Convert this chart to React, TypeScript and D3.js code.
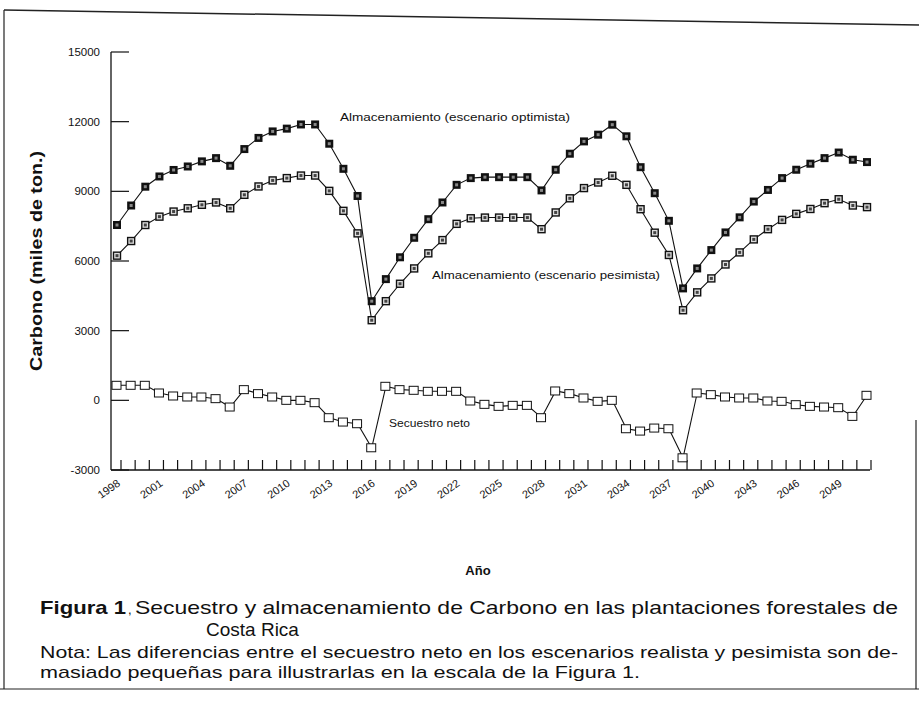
import * as d3 from 'd3';
import React from 'react';

// años 1998 .. 2051
const years = [
  1998, 1999, 2000, 2001, 2002, 2003, 2004, 2005, 2006, 2007, 2008, 2009, 2010, 2011,
  2012, 2013, 2014, 2015, 2016, 2017, 2018, 2019, 2020, 2021, 2022, 2023, 2024, 2025,
  2026, 2027, 2028, 2029, 2030, 2031, 2032, 2033, 2034, 2035, 2036, 2037, 2038, 2039,
  2040, 2041, 2042, 2043, 2044, 2045, 2046, 2047, 2048, 2049, 2050, 2051,
];

const yearLabels = [
  '1998', '2001', '2004', '2007', '2010', '2013', '2016', '2019', '2022',
  '2025', '2028', '2031', '2034', '2037', '2040', '2043', '2046', '2049',
];

const yTicks = [-3000, 0, 3000, 6000, 9000, 12000, 15000];

const optimista = [
  7550, 8390, 9200, 9640, 9920, 10070, 10290, 10430, 10100, 10820, 11300, 11580, 11700, 11880,
  11880, 11050, 9970, 8800, 4270, 5220, 6160, 7000, 7800, 8520, 9280, 9570, 9610, 9610,
  9610, 9610, 9040, 9930, 10620, 11150, 11440, 11870, 11370, 10040, 8920, 7730, 4820, 5680,
  6470, 7230, 7880, 8560, 9060, 9570, 9930, 10190, 10430, 10670, 10360, 10260,
];

const pesimista = [
  6230, 6860, 7550, 7910, 8130, 8270, 8420, 8520, 8270, 8850, 9210, 9470, 9570, 9680,
  9680, 9020, 8160, 7190, 3450, 4270, 5020, 5680, 6330, 6900, 7600, 7840, 7870, 7870,
  7870, 7870, 7370, 8090, 8700, 9140, 9380, 9670, 9280, 8230, 7220, 6260, 3880, 4650,
  5250, 5850, 6370, 6930, 7370, 7770, 8030, 8240, 8490, 8660, 8390, 8320,
];

const secuestro = [
  647, 647, 647, 316, 187, 144, 144, 72, -288, 460, 288, 144, 0, 0,
  -101, -748, -935, -1007, -2043, 604, 460, 432, 388, 388, 388, -29, -173, -259,
  -216, -216, -748, 403, 288, 101, -43, 0, -1223, -1324, -1194, -1223, -2475, 316,
  244, 144, 101, 101, -29, -43, -187, -259, -288, -317, -691, 216,
];

const W = 919;
const H = 703;
const font = '"Liberation Sans", Arial, Helvetica, sans-serif';

const x = d3.scaleLinear().domain([1998, 2051]).range([117, 867]);
const y = d3.scaleLinear().domain([-3000, 15000]).range([470, 52]);

const axisX = 111;

const line = d3
  .line<number>()
  .x((d, i) => x(years[i]))
  .y((d) => y(d));

export default function App() {
  return (
    <svg
      width={W}
      height={H}
      style={{ position: 'absolute', left: 0, top: 0, background: '#fff' }}
      fontFamily={font}
    >
      {/* marco */}
      <g stroke="#222" fill="none">
        <line x1={4} y1={10} x2={919} y2={25} strokeWidth={1.5} />
        <line x1={4} y1={10} x2={4} y2={689} strokeWidth={1.2} />
        <line x1={0} y1={689} x2={919} y2={689} strokeWidth={1.2} />
        <line x1={916} y1={420} x2={916} y2={689} strokeWidth={1.2} />
      </g>

      {/* eje y */}
      <line x1={axisX} y1={y(15000)} x2={axisX} y2={y(-3000)} stroke="#111" strokeWidth={1.3} />
      {yTicks.map((t) => (
        <g key={t}>
          <line x1={axisX} x2={axisX + 18} y1={y(t)} y2={y(t)} stroke="#111" strokeWidth={1.2} />
          <text x={100} y={y(t)} dy="0.35em" textAnchor="end" fontSize={11.5} fill="#111">
            {t}
          </text>
        </g>
      ))}
      <text
        transform={`translate(42,${(y(15000) + y(-3000)) / 2}) rotate(-90)`}
        textAnchor="middle"
        fontSize={17}
        fontWeight="bold"
        fill="#111"
        textLength={220}
        lengthAdjust="spacingAndGlyphs"
      >
        Carbono (miles de ton.)
      </text>

      {/* eje x */}
      <line x1={axisX} x2={x(2051) + 3} y1={y(-3000)} y2={y(-3000)} stroke="#111" strokeWidth={1.3} />
      {years.map((yr) => (
        <line
          key={yr}
          x1={x(yr) + 4}
          x2={x(yr) + 4}
          y1={y(-3000)}
          y2={y(-3000) - 10}
          stroke="#111"
          strokeWidth={1.2}
        />
      ))}
      {yearLabels.map((lab) => (
        <text
          key={lab}
          transform={`translate(${x(+lab) + 4},${y(-3000) + 15}) rotate(-35)`}
          textAnchor="end"
          fontSize={11}
          fill="#111"
        >
          {lab}
        </text>
      ))}
      <text x={478} y={575} textAnchor="middle" fontSize={13} fontWeight="bold" fill="#111">
        Año
      </text>

      {/* series */}
      <path d={line(optimista) || ''} fill="none" stroke="#111" strokeWidth={1.1} />
      <path d={line(pesimista) || ''} fill="none" stroke="#111" strokeWidth={1.1} />
      <path d={line(secuestro) || ''} fill="none" stroke="#111" strokeWidth={1.1} />

      {optimista.map((v, i) => (
        <g key={'o' + i} transform={`translate(${x(years[i])},${y(v)})`}>
          <rect x={-4} y={-4} width={8} height={8} fill="#111" />
          <rect x={-1.5} y={-1.5} width={3} height={3} fill="#888" />
        </g>
      ))}
      {pesimista.map((v, i) => (
        <g key={'p' + i} transform={`translate(${x(years[i])},${y(v)})`}>
          <rect x={-3.5} y={-3.5} width={7} height={7} fill="#ddd" stroke="#111" strokeWidth={1.4} />
          <rect x={-1.5} y={-1.5} width={3} height={3} fill="#444" />
        </g>
      ))}
      {secuestro.map((v, i) => (
        <rect
          key={'s' + i}
          x={x(years[i]) - 5}
          y={y(v) - 4}
          width={9}
          height={8}
          fill="#fff"
          stroke="#111"
          strokeWidth={1}
        />
      ))}

      {/* rótulos */}
      <text x={340} y={121} fontSize={11} fill="#111" textLength={230} lengthAdjust="spacingAndGlyphs">
        Almacenamiento (escenario optimista)
      </text>
      <text x={432} y={279} fontSize={11} fill="#111" textLength={228} lengthAdjust="spacingAndGlyphs">
        Almacenamiento (escenario pesimista)
      </text>
      <text x={389} y={427} fontSize={11} fill="#111" textLength={81} lengthAdjust="spacingAndGlyphs">
        Secuestro neto
      </text>

      {/* leyenda de figura */}
      <text x={40} y={614} fontSize={19} fontWeight="bold" fill="#111" textLength={86} lengthAdjust="spacingAndGlyphs">
        Figura 1
      </text>
      <text x={128} y={614} fontSize={13} fill="#111">
        ,
      </text>
      <text x={135} y={614} fontSize={19} fill="#111" textLength={763} lengthAdjust="spacingAndGlyphs">
        Secuestro y almacenamiento de Carbono en las plantaciones forestales de
      </text>
      <text x={206} y={636} fontSize={19} fill="#111">
        Costa Rica
      </text>
      <text x={40} y={658} fontSize={17} fill="#111" textLength={858} lengthAdjust="spacingAndGlyphs">
        Nota: Las diferencias entre el secuestro neto en los escenarios realista y pesimista son de-
      </text>
      <text x={40} y={678} fontSize={17} fill="#111" textLength={600} lengthAdjust="spacingAndGlyphs">
        masiado pequeñas para illustrarlas en la escala de la Figura 1.
      </text>
    </svg>
  );
}
